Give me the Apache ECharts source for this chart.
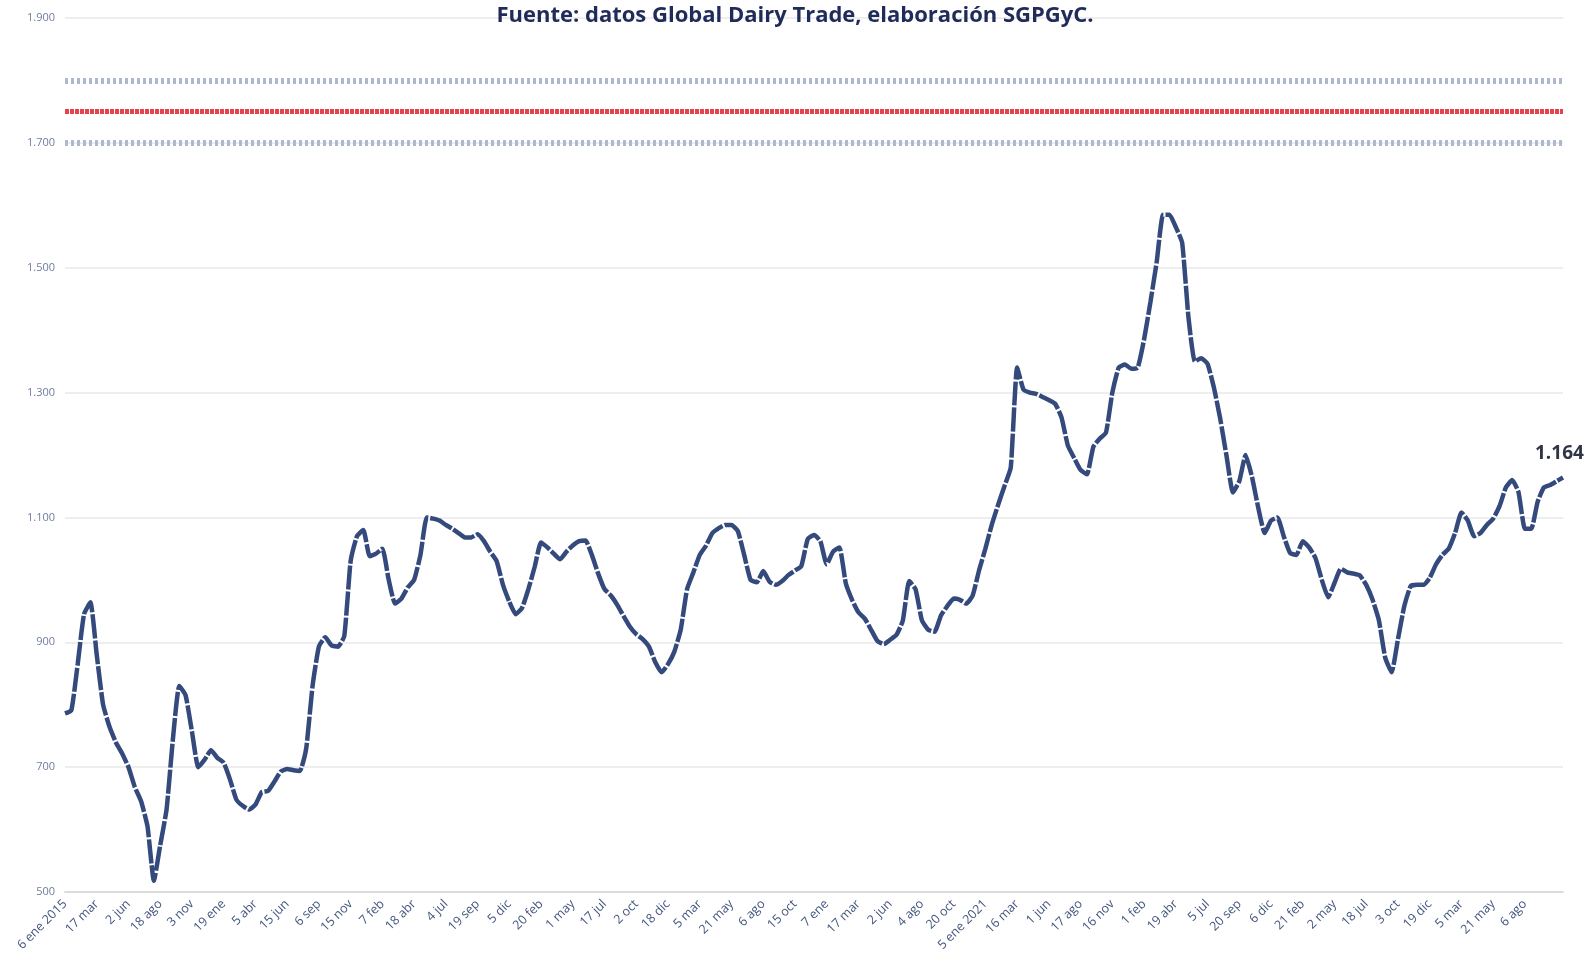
<!DOCTYPE html>
<html>
<head>
<meta charset="utf-8">
<script src="https://cdn.jsdelivr.net/npm/echarts@6/dist/echarts.min.js"></script>
<style>
  html, body { margin: 0; padding: 0; background: #fff; }
  #chart { width: 1590px; height: 968px; }
</style>
</head>
<body>
<div id="chart"></div>
<script>
// etiquetas del eje x (una cada 5 licitaciones)
const tickLabels = [
  '6 ene 2015', '17 mar', '2 jun', '18 ago', '3 nov', '19 ene', '5 abr', '15 jun', '6 sep', '15 nov',
  '7 feb', '18 abr', '4 jul', '19 sep', '5 dic', '20 feb', '1 may', '17 jul', '2 oct', '18 dic',
  '5 mar', '21 may', '6 ago', '15 oct', '7 ene', '17 mar', '2 jun', '4 ago', '20 oct', '5 ene 2021',
  '16 mar', '1 jun', '17 ago', '16 nov', '1 feb', '19 abr', '5 jul', '20 sep', '6 dic', '21 feb',
  '2 may', '18 jul', '3 oct', '19 dic', '5 mar', '21 may', '6 ago'
]

// precio (USD/t) por licitación
const precios = [
  786, 791, 865, 945, 964, 880, 800, 765, 740, 722,
  700, 668, 645, 605, 518, 575, 632, 745, 830, 815,
  757, 700, 712, 727, 715, 707, 680, 648, 638, 632,
  640, 660, 662, 677, 693, 697, 695, 694, 730, 830,
  893, 908, 895, 893, 910, 1030, 1070, 1080, 1038, 1042,
  1050, 1000, 962, 970, 988, 1000, 1040, 1100, 1098, 1095,
  1088, 1082, 1075, 1068, 1068, 1073, 1062, 1045, 1030, 992,
  965, 945, 955, 985, 1021, 1060, 1052, 1042, 1033, 1045,
  1055, 1062, 1063, 1040, 1010, 985, 975, 960, 942, 925,
  913, 905, 893, 868, 852, 865, 885, 920, 985, 1012,
  1040, 1055, 1075, 1083, 1088, 1088, 1078, 1040, 1000, 996,
  1014, 997, 992, 998, 1008, 1015, 1022, 1065, 1072, 1062,
  1025, 1045, 1052, 995, 968, 948, 938, 920, 902, 897,
  904, 912, 935, 998, 985, 935, 920, 917, 943, 958,
  970, 968, 962, 975, 1015, 1050, 1088, 1120, 1150, 1180,
  1340, 1305, 1300, 1298, 1293, 1288, 1282, 1260, 1215, 1195,
  1176, 1169, 1213, 1226, 1236, 1300, 1340, 1345, 1338, 1340,
  1385, 1445, 1510, 1585, 1585, 1565, 1540, 1420, 1350, 1355,
  1346, 1308, 1258, 1198, 1140, 1158, 1200, 1165, 1115, 1075,
  1095, 1100, 1070, 1043, 1040, 1062, 1052, 1035, 1000, 972,
  995, 1018, 1012, 1010, 1007, 992, 968, 935, 875, 852,
  905, 958, 990, 992, 992, 1003, 1025, 1040, 1050, 1075,
  1108, 1095, 1070, 1075, 1088, 1098, 1118, 1148, 1160, 1140,
  1082, 1082, 1125, 1148, 1152, 1158, 1164
]

// niveles de las bandas horizontales
const bandaSuperior = 1800
const nivelRojo = 1750
const bandaInferior = 1700

const fechas = precios.map((v, i) => (i % 5 === 0 ? (tickLabels[i / 5] || '') : ''))

const chart = echarts.init(document.getElementById('chart'))

const option = {
  animation: false,
  title: {
    text: 'Fuente: datos Global Dairy Trade, elaboración SGPGyC.',
    left: 'center',
    top: 0,
    textStyle: {
      fontFamily: 'Open Sans',
      fontSize: 22,
      fontWeight: 'bold',
      color: '#1f2b58'
    }
  },
  grid: {
    left: 65,
    right: 27,
    top: 18,
    bottom: 76
  },
  xAxis: {
    type: 'category',
    data: fechas,
    boundaryGap: false,
    axisLine: { lineStyle: { color: '#dcdcdc', width: 2 } },
    axisTick: { show: false },
    axisLabel: {
      interval: 4,
      rotate: 45,
      margin: 10,
      fontFamily: 'Open Sans',
      fontSize: 12.5,
      color: '#44557f'
    }
  },
  yAxis: {
    type: 'value',
    min: 500,
    max: 1900,
    interval: 200,
    axisLine: { show: false },
    axisTick: { show: false },
    splitLine: { lineStyle: { color: '#eeeeee', width: 2 } },
    axisLabel: {
      margin: 10,
      fontFamily: 'Open Sans',
      fontSize: 11,
      color: '#6f7d9c',
      formatter: v => v.toLocaleString('de-DE')
    }
  },
  series: [
    {
      name: 'Precio',
      type: 'line',
      data: precios,
      symbol: 'none',
      smooth: 0.15,
      lineStyle: {
        color: '#34497c',
        width: 4.5,
        type: [24, 2]
      },
      markLine: {
        silent: true,
        symbol: 'none',
        label: { show: false },
        data: [
          { yAxis: bandaSuperior, lineStyle: { color: '#aeb8cd', width: 6, type: [3, 3] } },
          { yAxis: nivelRojo, lineStyle: { color: '#e5424d', width: 5, type: [4, 1] } },
          { yAxis: bandaInferior, lineStyle: { color: '#aeb8cd', width: 6, type: [3, 3] } }
        ]
      },
      endLabel: {
        show: true,
        formatter: p => p.value.toLocaleString('de-DE'),
        offset: [-36, -24],
        fontFamily: 'Open Sans',
        fontSize: 19,
        fontWeight: 'bold',
        color: '#2f3545'
      }
    }
  ]
}

chart.setOption(option)
</script>
</body>
</html>
